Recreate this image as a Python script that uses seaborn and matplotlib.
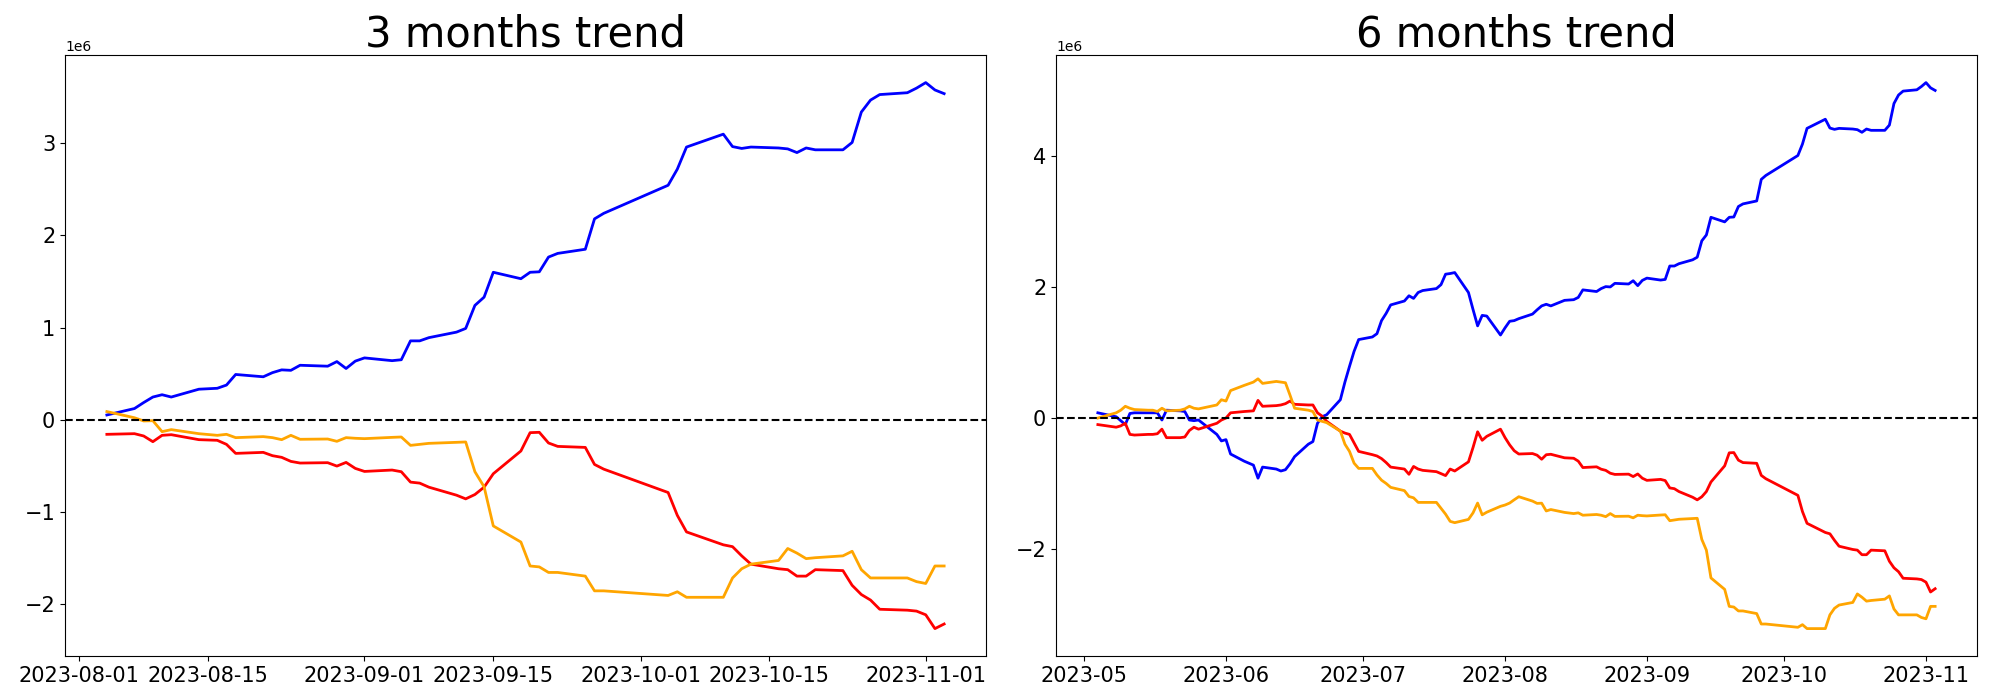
import matplotlib
matplotlib.use("Agg")
import matplotlib.pyplot as plt
import seaborn as sns
import pandas as pd

# values are in millions, plotted as raw units so the axis shows the 1e6 offset
SCALE = 1e6

# trading calendar (weekdays minus market holidays)
start_6m, start_3m, end_date = "2023-05-04", "2023-08-04", "2023-11-03"
holidays = ["2023-05-05", "2023-05-29", "2023-06-06", "2023-08-15",
            "2023-09-28", "2023-09-29", "2023-10-02", "2023-10-03", "2023-10-09"]

# ---- 3 months window ----
foreign_3m = [
    0.05, 0.12, 0.185, 0.245, 0.27, 0.245, 0.33, 0.34, 0.375, 0.49, 0.465, 0.51,
    0.54, 0.535, 0.59, 0.58, 0.63, 0.555, 0.635, 0.67, 0.64, 0.65, 0.855, 0.855,
    0.89, 0.95, 0.99, 1.24, 1.33, 1.60, 1.53, 1.60, 1.605, 1.765, 1.805, 1.85,
    2.18, 2.24, 2.545, 2.72, 2.96, 3.10, 2.965, 2.945, 2.96, 2.95, 2.94, 2.90,
    2.95, 2.93, 2.93, 3.01, 3.34, 3.47, 3.53, 3.55, 3.60, 3.66, 3.58, 3.54,
]
institution_3m = [
    -0.16, -0.153, -0.178, -0.24, -0.171, -0.164, -0.218, -0.225, -0.269, -0.367, -0.356, -0.392,
    -0.41, -0.454, -0.472, -0.468, -0.505, -0.465, -0.53, -0.563, -0.548, -0.566, -0.679, -0.69,
    -0.734, -0.821, -0.861, -0.814, -0.734, -0.588, -0.341, -0.142, -0.138, -0.254, -0.291, -0.302,
    -0.487, -0.538, -0.792, -1.04, -1.22, -1.36, -1.38, -1.48, -1.57, -1.62, -1.63, -1.70,
    -1.70, -1.63, -1.64, -1.80, -1.90, -1.96, -2.06, -2.07, -2.08, -2.12, -2.27, -2.22,
]
individual_3m = [
    0.087, 0.02, -0.015, -0.012, -0.131, -0.109, -0.153, -0.171, -0.16, -0.196, -0.185, -0.196,
    -0.218, -0.171, -0.214, -0.211, -0.236, -0.196, -0.203, -0.207, -0.193, -0.189, -0.28, -0.269,
    -0.258, -0.247, -0.243, -0.566, -0.73, -1.155, -1.33, -1.59, -1.60, -1.66, -1.66, -1.70,
    -1.86, -1.86, -1.91, -1.87, -1.93, -1.93, -1.72, -1.62, -1.57, -1.53, -1.40, -1.45,
    -1.51, -1.50, -1.48, -1.43, -1.63, -1.72, -1.72, -1.72, -1.76, -1.78, -1.59, -1.59,
]

# ---- 6 months window ----
foreign_6m = [
    # May
    0.08, 0.02, -0.04, -0.10, 0.07, 0.08, 0.08, 0.08, 0.08, -0.03, 0.12, 0.11,
    0.10, -0.03, -0.04, -0.03, -0.25, -0.35,
    # June
    -0.33, -0.55, -0.66, -0.72, -0.92, -0.75, -0.78, -0.81, -0.79, -0.70, -0.59, -0.40,
    -0.36, -0.08, 0.02, 0.05, 0.28, 0.55, 0.79, 1.02, 1.20,
    # July - Aug 3
    1.24, 1.29, 1.49, 1.60, 1.73, 1.79, 1.87, 1.83, 1.92, 1.95, 1.98, 2.04,
    2.20, 2.21, 2.225, 1.92, 1.66, 1.41, 1.57, 1.56, 1.27, 1.38, 1.48, 1.49,
    # Aug 4 - Nov 3
    1.52, 1.59, 1.655, 1.715, 1.74, 1.715, 1.80, 1.81, 1.845, 1.96, 1.935, 1.98,
    2.01, 2.005, 2.06, 2.05, 2.10, 2.025, 2.105, 2.14, 2.11, 2.12, 2.325, 2.325,
    2.36, 2.42, 2.46, 2.71, 2.80, 3.07, 3.00, 3.07, 3.075, 3.235, 3.275, 3.32,
    3.65, 3.71, 4.015, 4.19, 4.43, 4.57, 4.435, 4.415, 4.43, 4.42, 4.41, 4.37,
    4.42, 4.40, 4.40, 4.48, 4.81, 4.94, 5.00, 5.02, 5.07, 5.13, 5.05, 5.01,
]
institution_6m = [
    -0.10, -0.14, -0.12, -0.08, -0.25, -0.26, -0.25, -0.25, -0.24, -0.17, -0.30, -0.30,
    -0.29, -0.19, -0.14, -0.17, -0.08, -0.03,
    0.0, 0.08, 0.10, 0.11, 0.27, 0.18, 0.19, 0.20, 0.22, 0.26, 0.21, 0.20,
    0.20, 0.08, 0.03, -0.05, -0.20, -0.23, -0.25, -0.38, -0.51,
    -0.56, -0.58, -0.62, -0.68, -0.75, -0.78, -0.86, -0.74, -0.78, -0.80, -0.82, -0.85,
    -0.88, -0.78, -0.81, -0.67, -0.45, -0.21, -0.34, -0.28, -0.17, -0.30, -0.41, -0.50,
    -0.55, -0.543, -0.568, -0.63, -0.561, -0.554, -0.608, -0.615, -0.659, -0.757, -0.746, -0.782,
    -0.80, -0.844, -0.862, -0.858, -0.895, -0.855, -0.92, -0.953, -0.938, -0.956, -1.069, -1.08,
    -1.124, -1.211, -1.251, -1.204, -1.124, -0.978, -0.731, -0.532, -0.528, -0.644, -0.681, -0.692,
    -0.877, -0.928, -1.182, -1.43, -1.61, -1.75, -1.77, -1.87, -1.96, -2.01, -2.02, -2.09,
    -2.09, -2.02, -2.03, -2.19, -2.29, -2.35, -2.45, -2.46, -2.47, -2.51, -2.66, -2.61,
]
individual_6m = [
    0.0, 0.08, 0.12, 0.18, 0.15, 0.13, 0.12, 0.12, 0.10, 0.15, 0.11, 0.12,
    0.14, 0.18, 0.15, 0.14, 0.20, 0.28,
    0.26, 0.42, 0.50, 0.55, 0.60, 0.53, 0.56, 0.55, 0.54, 0.35, 0.15, 0.12,
    0.10, -0.03, -0.05, -0.07, -0.20, -0.40, -0.51, -0.69, -0.77,
    -0.77, -0.87, -0.95, -1.00, -1.06, -1.11, -1.20, -1.22, -1.29, -1.29, -1.29, -1.38,
    -1.47, -1.58, -1.60, -1.55, -1.45, -1.30, -1.48, -1.44, -1.35, -1.33, -1.30, -1.25,
    -1.203, -1.27, -1.305, -1.302, -1.421, -1.399, -1.443, -1.461, -1.45, -1.486, -1.475, -1.486,
    -1.508, -1.461, -1.504, -1.501, -1.526, -1.486, -1.493, -1.497, -1.483, -1.479, -1.57, -1.559,
    -1.548, -1.537, -1.533, -1.856, -2.02, -2.445, -2.62, -2.88, -2.89, -2.95, -2.95, -2.99,
    -3.15, -3.15, -3.20, -3.16, -3.22, -3.22, -3.01, -2.91, -2.86, -2.82, -2.69, -2.74,
    -2.80, -2.79, -2.77, -2.72, -2.92, -3.01, -3.01, -3.01, -3.05, -3.07, -2.88, -2.88,
]

colors = {"foreign": "blue", "institution": "red", "individual": "orange"}


def trading_days(start, end):
    days = pd.bdate_range(start, end)
    return days[~days.isin(pd.to_datetime(holidays))]


def to_long(start, foreign, institution, individual):
    dates = trading_days(start, end_date)
    df = pd.DataFrame({
        "date": dates,
        "foreign": foreign,
        "institution": institution,
        "individual": individual,
    })
    df = df.melt(id_vars="date", var_name="investor", value_name="value")
    df["value"] = df["value"] * SCALE
    return df


def draw_trend(ax, df, title):
    sns.lineplot(data=df, x="date", y="value", hue="investor", palette=colors,
                 hue_order=["foreign", "institution", "individual"],
                 linewidth=2, legend=False, ax=ax)
    ax.axhline(0, color="black", linestyle="--", linewidth=1.5)
    ax.set_title(title, fontsize=30)
    ax.set_xlabel("")
    ax.set_ylabel("")
    ax.tick_params(labelsize=15)


fig, axes = plt.subplots(1, 2, figsize=(20, 7), dpi=100)
draw_trend(axes[0], to_long(start_3m, foreign_3m, institution_3m, individual_3m), "3 months trend")
draw_trend(axes[1], to_long(start_6m, foreign_6m, institution_6m, individual_6m), "6 months trend")

plt.subplots_adjust(left=0.0325, right=0.9885, bottom=0.063, top=0.921, wspace=0.076)
plt.savefig("out.png")
